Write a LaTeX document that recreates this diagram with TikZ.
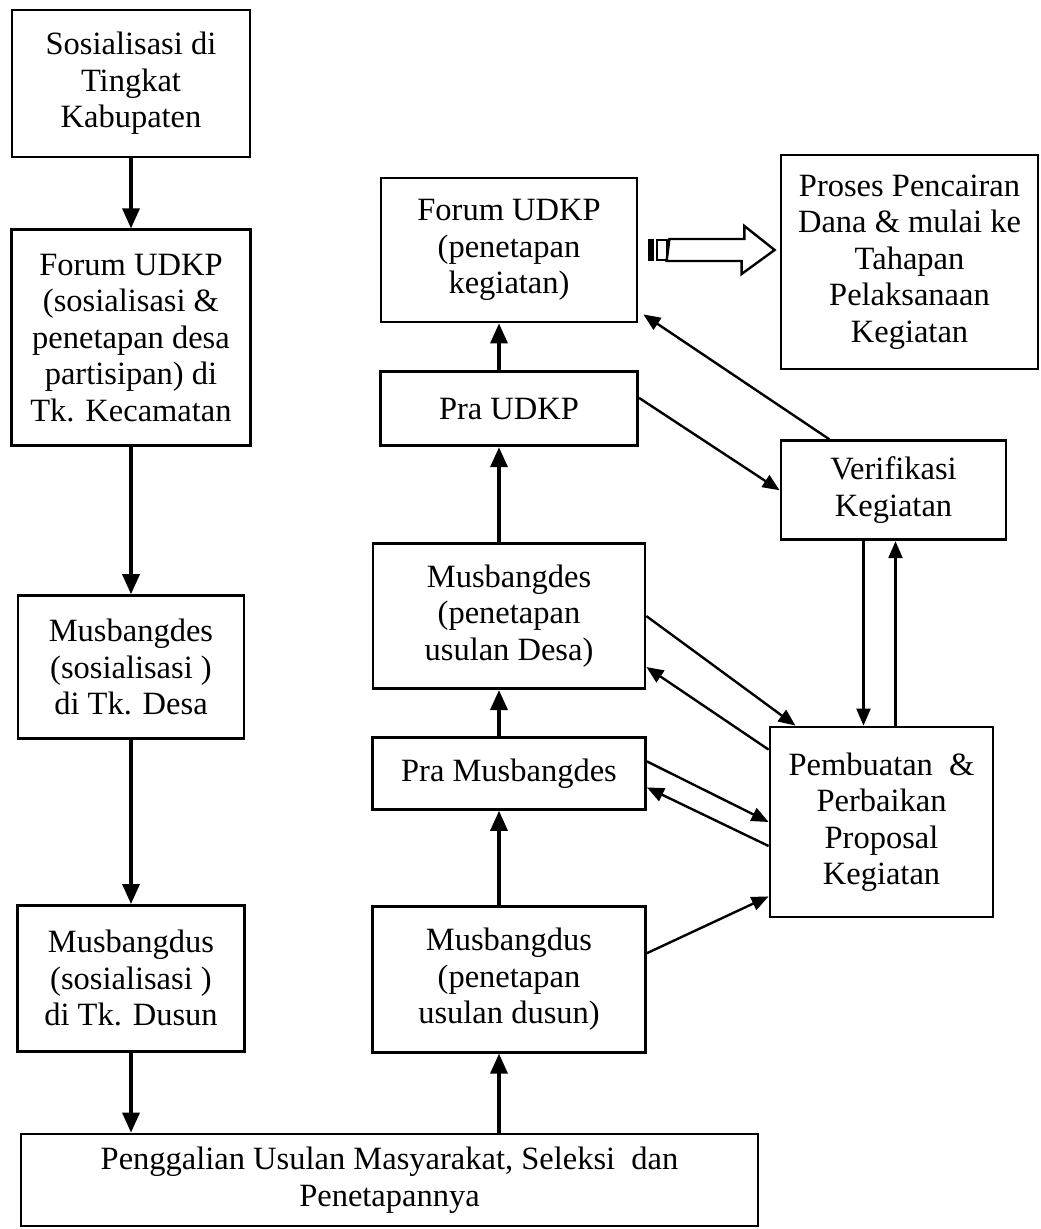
\documentclass[tikz,border=0pt]{standalone}
\usepackage{fontspec}
\setmainfont{Liberation Serif}
\usetikzlibrary{arrows.meta,positioning}
\tikzset{
    %Define standard arrow tip
    >={Triangle[length=20pt,width=17pt]},
    %Define style for boxes
    kotak/.style={
           rectangle,
           draw=black, line width=2.8pt,
           align=center,
           inner sep=0pt,
           font=\fontsize{32.5}{36.5}\selectfont},
    % Define arrow styles
    panah/.style={
           ->,
           line width=3.4pt},
    garis/.style={
           -{Triangle[length=17pt,width=14pt]},
           line width=2.4pt}
}

\begin{document}
\begin{tikzpicture}[x=1pt,y=-1pt]
  \useasboundingbox (0,0) rectangle (1041,1229);
  % kolom kiri
  \node[kotak, minimum width=238pt, minimum height=147pt] (sosial) at (131,83.5) {Sosialisasi di\\Tingkat\\Kabupaten};
  \node[kotak, minimum width=239pt, minimum height=216pt] (forumsos) [below=70pt of sosial] {Forum UDKP\\(sosialisasi \&\\penetapan desa\\partisipan) di\\Tk. Kecamatan};
  \node[kotak, minimum width=226pt, minimum height=143pt] (musdes) [below=147pt of forumsos] {Musbangdes\\(sosialisasi )\\di Tk. Desa};
  \node[kotak, minimum width=227pt, minimum height=146pt] (musdus) [below=164pt of musdes] {Musbangdus\\(sosialisasi )\\di Tk. Dusun};
  \node[kotak, minimum width=737pt, minimum height=92pt] (gali) at (389.5,1180) {Penggalian Usulan Masyarakat, Seleksi\ \ dan\\Penetapannya};
  % kolom tengah
  \node[kotak, minimum width=256pt, minimum height=144pt] (forumpen) at (509,250) {Forum UDKP\\(penetapan\\kegiatan)};
  \node[kotak, minimum width=257pt, minimum height=74pt] (praudkp) [below=47pt of forumpen] {Pra UDKP};
  \node[kotak, minimum width=272pt, minimum height=145pt] (musdespen) [below=95pt of praudkp] {Musbangdes\\(penetapan\\usulan Desa)};
  \node[kotak, minimum width=273pt, minimum height=72pt] (pramusdes) [below=46pt of musdespen] {Pra Musbangdes};
  \node[kotak, minimum width=273pt, minimum height=146pt] (musduspen) [below=94pt of pramusdes] {Musbangdus\\(penetapan\\usulan dusun)};
  % kolom kanan
  \node[kotak, minimum width=257pt, minimum height=214pt] (proses) at (909.5,262) {Proses Pencairan\\Dana \& mulai ke\\Tahapan\\Pelaksanaan\\Kegiatan};
  \node[kotak, minimum width=225pt, minimum height=99pt] (verif) [below=69pt of proses.south west, anchor=north west] {Verifikasi\\Kegiatan};
  \node[kotak, minimum width=223pt, minimum height=190pt] (proposal) at (881.5,822) {Pembuatan\ \ \&\\Perbaikan\\Proposal\\Kegiatan};

  \coordinate (tengah) at (499,0);
  \coordinate (turun) at ([xshift=-30pt]verif.south);
  \coordinate (naik) at ([xshift=2pt]verif.south);
  \coordinate (ujung) at ([xshift=-5pt]proses.west);

  \draw[panah] (sosial.south) -- (sosial.south |- forumsos.north);
  \draw[panah] (musdes.north |- forumsos.south) -- (musdes.north);
  \draw[panah] (musdus.north |- musdes.south) -- (musdus.north);
  \draw[panah] (musdus.south) -- (musdus.south |- gali.north);
  \draw[panah] (tengah |- gali.north) -- (tengah |- musduspen.south);
  \draw[panah] (tengah |- musduspen.north) -- (tengah |- pramusdes.south);
  \draw[panah] (tengah |- pramusdes.north) -- (tengah |- musdespen.south);
  \draw[panah] (tengah |- musdespen.north) -- (tengah |- praudkp.south);
  \draw[panah] (tengah |- praudkp.north) -- (tengah |- forumpen.south);

  \draw[garis] ([xshift=-64pt]verif.north) -- ([shift={(5pt,9pt)}]forumpen.south east);
  \draw[garis] ([yshift=11pt]praudkp.east) -- (verif.west);
  \draw[garis] (turun) -- (turun |- proposal.north);
  \draw[garis] (naik |- proposal.north) -- (naik);
  \draw[garis] (musdespen.east) -- ([xshift=-86pt]proposal.north);
  \draw[garis] ([yshift=-24pt]proposal.north west) -- ([yshift=23pt]musdespen.south east);
  \draw[garis] ([yshift=12pt]pramusdes.east) -- (proposal.west);
  \draw[garis] ([yshift=-24pt]proposal.west) -- ([yshift=-14pt]pramusdes.east);
  \draw[garis] ([yshift=26pt]musduspen.east) -- ([yshift=22pt]proposal.south west);

  \fill ([xshift=10pt]forumpen.east) ++(0,-11) rectangle ++(6,22);
  \draw[line width=2pt] ([xshift=19pt]forumpen.east) ++(0,-10) rectangle ++(10,20);
  \draw[line width=2.4pt, fill=white, line join=miter]
    ([xshift=31pt]forumpen.east) ++(0,-11) -- ++(75,0) -- ++(0,-13)
    -- (ujung |- forumpen.east) -- ++(-33,24) -- ++(0,-13) -- ++(-75,0) -- cycle;
\end{tikzpicture}
\end{document}
